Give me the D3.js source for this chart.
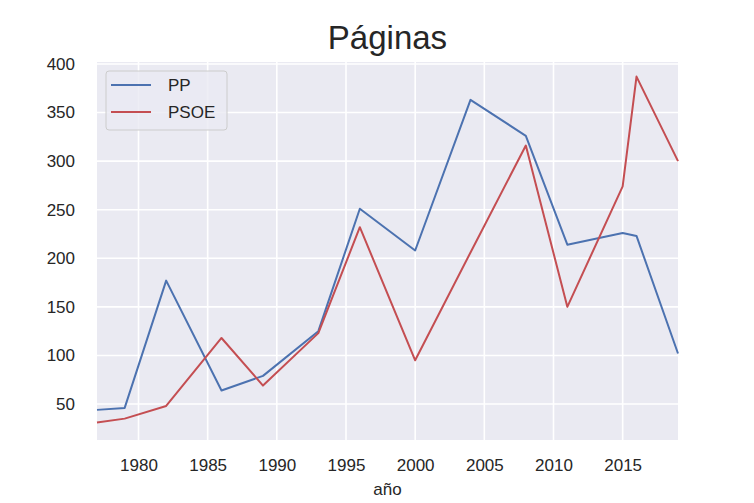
<!DOCTYPE html>
<html>
<head>
<meta charset="utf-8">
<script src="https://cdn.jsdelivr.net/npm/d3@7"></script>
<style>
  body { margin: 0; background: #fff; }
  svg { font-family: "Liberation Sans", Arial, sans-serif; }
  .grid line { stroke: #fff; stroke-width: 1.6; }
  .tick text { fill: #262626; font-size: 17px; }
</style>
</head>
<body>
<div id="chart"></div>
<script>
// election years and pages per party
const years = [1977, 1979, 1982, 1986, 1989, 1993, 1996, 2000, 2004, 2008, 2011, 2015, 2016, 2019];
const pp    = [44, 46, 177, 64, 79, 125, 251, 208, 363, 326, 214, 226, 223, 102];
const psoe  = [31, 35, 48, 118, 69, 123, 232, 95, 206, 316, 150, 274, 387, 300];
const xTicks = [1980, 1985, 1990, 1995, 2000, 2005, 2010, 2015];
const yTicks = [50, 100, 150, 200, 250, 300, 350, 400];
const series = [
  { name: 'PP', values: pp, color: '#4c72b0' },
  { name: 'PSOE', values: psoe, color: '#c44e52' }
];

const width = 754, height = 503;
const margin = { top: 62, right: 76, bottom: 63, left: 97 };

const svg = d3.select('#chart').append('svg')
  .attr('width', width)
  .attr('height', height);

const x = d3.scaleLinear().domain([1977, 2019]).range([margin.left, width - margin.right]);
const y = d3.scaleLinear().domain([13, 402]).range([height - margin.bottom, margin.top]);

// plot background
svg.append('rect')
  .attr('x', margin.left)
  .attr('y', margin.top)
  .attr('width', width - margin.left - margin.right)
  .attr('height', height - margin.top - margin.bottom)
  .attr('fill', '#eaeaf2');

// grid
const grid = svg.append('g').attr('class', 'grid');
grid.selectAll('.gx').data(xTicks).join('line')
  .attr('x1', d => x(d)).attr('x2', d => x(d))
  .attr('y1', margin.top).attr('y2', height - margin.bottom);
grid.selectAll('.gy').data(yTicks).join('line')
  .attr('y1', d => y(d)).attr('y2', d => y(d))
  .attr('x1', margin.left).attr('x2', width - margin.right);

// axes (labels only, seaborn style)
const xAxis = svg.append('g')
  .attr('transform', `translate(0,${height - margin.bottom})`)
  .call(d3.axisBottom(x).tickValues(xTicks).tickFormat(d3.format('d')).tickSize(0).tickPadding(19));
xAxis.select('.domain').remove();

const yAxis = svg.append('g')
  .attr('transform', `translate(${margin.left},0)`)
  .call(d3.axisLeft(y).tickValues(yTicks).tickSize(0).tickPadding(22));
yAxis.select('.domain').remove();

// lines
const line = d3.line()
  .x((d, i) => x(years[i]))
  .y(d => y(d));

series.forEach(s => {
  svg.append('path')
    .attr('d', line(s.values))
    .attr('fill', 'none')
    .attr('stroke', s.color)
    .attr('stroke-width', 2)
    .attr('stroke-linejoin', 'round');
});

// title and axis label
svg.append('text')
  .attr('x', (margin.left + width - margin.right) / 2)
  .attr('y', 49)
  .attr('text-anchor', 'middle')
  .attr('fill', '#262626')
  .style('font-size', '33px')
  .text('Páginas');

svg.append('text')
  .attr('x', (margin.left + width - margin.right) / 2)
  .attr('y', 495)
  .attr('text-anchor', 'middle')
  .attr('fill', '#262626')
  .style('font-size', '17px')
  .text('año');

// legend
const legend = svg.append('g').attr('transform', 'translate(106,71)');
legend.append('rect')
  .attr('width', 121)
  .attr('height', 59)
  .attr('rx', 3)
  .attr('fill', '#eaeaf2')
  .attr('fill-opacity', 0.8)
  .attr('stroke', '#cccccc');

series.forEach((s, i) => {
  const row = legend.append('g').attr('transform', `translate(0,${14 + i * 27})`);
  row.append('line')
    .attr('x1', 5).attr('x2', 45)
    .attr('stroke', s.color)
    .attr('stroke-width', 2);
  row.append('text')
    .attr('x', 62)
    .attr('y', 6)
    .attr('fill', '#262626')
    .style('font-size', '17px')
    .text(s.name);
});
</script>
</body>
</html>
